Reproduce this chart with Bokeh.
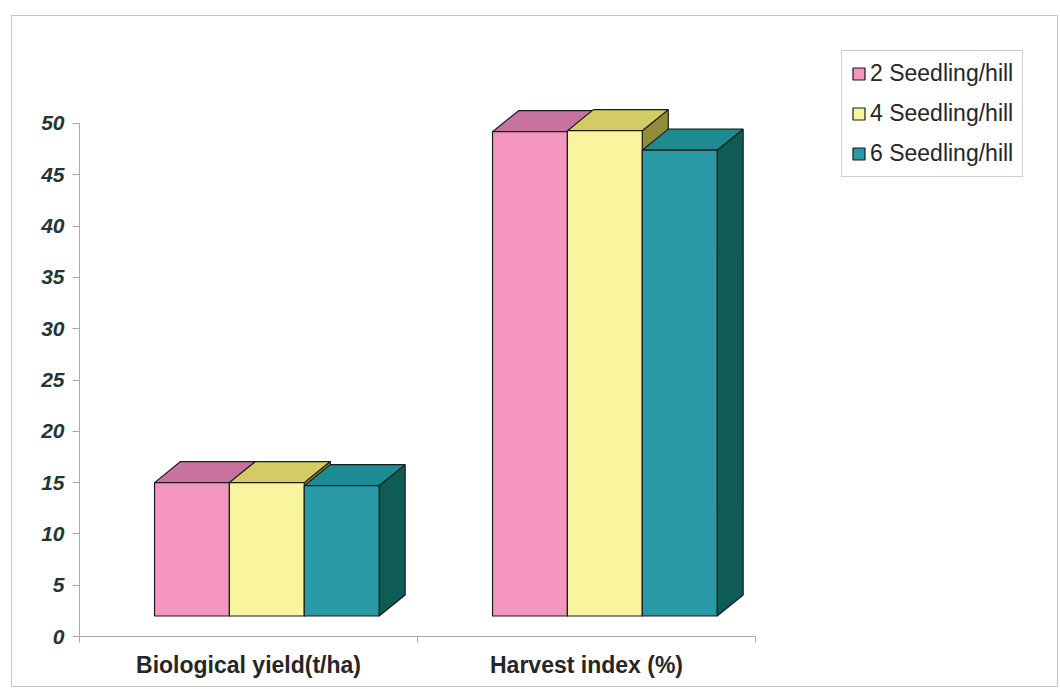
from bokeh.plotting import figure
from bokeh.models import (Range1d, LinearAxis, FixedTicker, CustomJSTickFormatter,
                          ColumnDataSource, Legend, LegendItem)
from bokeh.embed import file_html
from bokeh.resources import INLINE

# ---------------- data ----------------
categories = ["Biological yield(t/ha)", "Harvest index (%)"]
series = ["2 Seedling/hill", "4 Seedling/hill", "6 Seedling/hill"]
seedling2 = [15.0, 49.2]
seedling4 = [15.0, 49.3]
seedling6 = [14.7, 47.4]
y_ticks = [0, 5, 10, 15, 20, 25, 30, 35, 40, 45, 50]

values = [seedling2, seedling4, seedling6]

# ---------------- style ----------------
front_colors = ["#F395BF", "#F9F59E", "#2A99A6"]
top_colors = ["#C8739F", "#D3CB63", "#1E8A92"]
side_colors = ["#9E5A80", "#8F8C3B", "#0F5B55"]
edge = "#1c1c1c"
FONT = "Liberation Sans"

bar_w = 0.2215      # width of one bar, in category units
grp_off = -0.278    # left edge of first bar relative to category centre
base = 2.0          # visual floor of the 3-D bars
dx = 0.077          # depth offset (category units)
dy = 2.05           # depth offset (value units)

p = figure(width=1060, height=689, output_backend="svg", toolbar_location=None,
           x_range=Range1d(-0.2012, 2.8935), y_range=Range1d(-4.873, 60.526),
           x_axis_type=None, y_axis_type=None,
           min_border_left=11, min_border_right=3, min_border_top=15, min_border_bottom=3)
p.outline_line_color = "#c4c4c4"
p.outline_line_width = 1
p.background_fill_color = "white"
p.border_fill_color = "white"

side_r, top_r, front_r = [], [], []
for j, vals in enumerate(values):
    lefts, rights, tops = [], [], []
    sxs, sys_, txs, tys = [], [], [], []
    for i, v in enumerate(vals):
        l = i + 0.5 + grp_off + j * bar_w
        r = l + bar_w
        lefts.append(l); rights.append(r); tops.append(v)
        sxs.append([r, r + dx, r + dx, r]); sys_.append([base, base + dy, v + dy, v])
        txs.append([l, r, r + dx, l + dx]); tys.append([v, v, v + dy, v + dy])
    side_r.append((sxs, sys_))
    top_r.append((txs, tys))
    front_r.append(dict(left=lefts, right=rights, top=tops, bottom=[base] * len(vals)))

for j in range(3):
    xs, ys = side_r[j]
    p.patches(xs=xs, ys=ys, fill_color=side_colors[j], line_color=edge, line_width=1.2)
for j in range(3):
    xs, ys = top_r[j]
    p.patches(xs=xs, ys=ys, fill_color=top_colors[j], line_color=edge, line_width=1.2)
fronts = []
for j in range(3):
    src = ColumnDataSource(front_r[j])
    fronts.append(p.quad(left="left", right="right", top="top", bottom="bottom", source=src,
                         fill_color=front_colors[j], line_color=edge, line_width=1.2))

# ---------------- axes ----------------
yax = LinearAxis(ticker=FixedTicker(ticks=y_ticks), bounds=(0, 50), fixed_location=0)
yax.axis_line_color = "#a8a8a8"
yax.major_tick_line_color = "#a8a8a8"
yax.major_tick_out = 7
yax.major_tick_in = 0
yax.minor_tick_line_color = None
yax.major_label_standoff = 8
yax.major_label_text_font = FONT
yax.major_label_text_font_size = "21px"
yax.major_label_text_font_style = "bold italic"
yax.major_label_text_color = "#233535"
p.add_layout(yax, "left")

xax = LinearAxis(ticker=FixedTicker(ticks=[0.5, 1.5], minor_ticks=[0, 1, 2]), bounds=(0, 2),
                 fixed_location=0,
                 formatter=CustomJSTickFormatter(args=dict(names=categories),
                                                 code="return names[Math.floor(tick)]"))
xax.axis_line_color = "#a8a8a8"
xax.major_tick_line_color = None
xax.major_tick_out = 0
xax.major_tick_in = 0
xax.minor_tick_line_color = "#a8a8a8"
xax.minor_tick_out = 6
xax.minor_tick_in = 0
xax.major_label_standoff = 9
xax.major_label_text_font = FONT
xax.major_label_text_font_size = "23px"
xax.major_label_text_font_style = "bold"
xax.major_label_text_color = "#262626"
p.add_layout(xax, "below")

# ---------------- legend ----------------
legend = Legend(items=[LegendItem(label=series[j], renderers=[fronts[j]]) for j in range(3)],
                location=(830, 509))
legend.label_text_font = FONT
legend.label_text_font_size = "23px"
legend.label_text_color = "#262626"
legend.glyph_width = 15
legend.glyph_height = 15
legend.label_height = 27
legend.label_standoff = 4
legend.spacing = 13
legend.padding = 9
legend.margin = 0
legend.border_line_color = "#9a9a9a"
legend.border_line_width = 1
legend.background_fill_color = "white"
p.add_layout(legend, "center")

open("out.html", "w").write(file_html(p, INLINE))
